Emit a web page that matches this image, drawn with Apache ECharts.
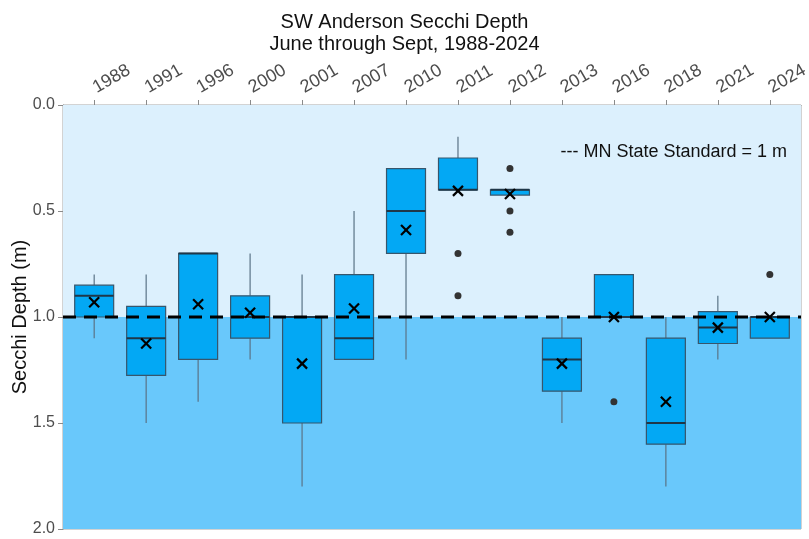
<!DOCTYPE html>
<html>
<head>
<meta charset="utf-8">
<title>SW Anderson Secchi Depth</title>
<script src="https://cdn.jsdelivr.net/npm/echarts@6/dist/echarts.min.js"></script>
<style>
  html, body { margin: 0; padding: 0; background: #fff; }
  #main { width: 809px; height: 539px; }
</style>
</head>
<body>
<div id="main"></div>
<script>
// years on the x axis
var years = ['1988', '1991', '1996', '2000', '2001', '2007', '2010', '2011', '2012', '2013', '2016', '2018', '2021', '2024'];
// min, Q1, median, Q3, max (metres, shallow -> deep)
var boxStats = [
  [0.8, 0.85, 0.9, 1.0, 1.1],
  [0.8, 0.95, 1.1, 1.275, 1.5],
  [0.7, 0.7, 0.7, 1.2, 1.4],
  [0.7, 0.9, 1.0, 1.1, 1.2],
  [0.8, 1.0, 1.0, 1.5, 1.8],
  [0.5, 0.8, 1.1, 1.2, 1.2],
  [0.3, 0.3, 0.5, 0.7, 1.2],
  [0.15, 0.25, 0.4, 0.4, 0.4],
  [0.4, 0.4, 0.4, 0.425, 0.425],
  [1.0, 1.1, 1.2, 1.35, 1.5],
  [0.8, 0.8, 1.0, 1.0, 1.0],
  [1.0, 1.1, 1.5, 1.6, 1.8],
  [0.9, 0.975, 1.05, 1.125, 1.2],
  [1.0, 1.0, 1.0, 1.1, 1.1]
];
// mean of each year
var means = [0.93, 1.125, 0.94, 0.98, 1.22, 0.96, 0.59, 0.405, 0.42, 1.22, 1.0, 1.4, 1.05, 1.0];
// outliers: year, depth
var outliers = [
  ['2011', 0.7], ['2011', 0.9],
  ['2012', 0.3], ['2012', 0.5], ['2012', 0.6],
  ['2016', 1.4],
  ['2024', 0.8]
];
var yTicks = [0, 0.5, 1.0, 1.5, 2.0];
var standard = 1.0;
var xRange = [-0.6, 13.6];

var myChart = echarts.init(document.getElementById('main'));

var idx = years.map(function (y, i) { return i; });
var boxData = boxStats.map(function (s, i) { return [i].concat(s); });
var meanData = means.map(function (m, i) { return [i, m]; });
var outlierData = outliers.map(function (o) { return [years.indexOf(o[0]), o[1]]; });

// box + whiskers without end caps (ggplot style)
function renderBox(params, api) {
  var x = api.value(0);
  var pMin = api.coord([x, api.value(1)]);
  var pQ1 = api.coord([x, api.value(2)]);
  var pMed = api.coord([x, api.value(3)]);
  var pQ3 = api.coord([x, api.value(4)]);
  var pMax = api.coord([x, api.value(5)]);
  var half = api.size([1, 0])[0] * 0.375;
  var cx = pMed[0];
  var whisker = { stroke: '#5a7386', lineWidth: 1.2 };
  return {
    type: 'group',
    children: [
      { type: 'line', shape: { x1: cx, y1: pMin[1], x2: cx, y2: pQ1[1] }, style: whisker },
      { type: 'line', shape: { x1: cx, y1: pQ3[1], x2: cx, y2: pMax[1] }, style: whisker },
      {
        type: 'rect',
        shape: { x: cx - half, y: pQ1[1], width: half * 2, height: pQ3[1] - pQ1[1] },
        style: { fill: '#03a8f4', stroke: '#37566c', lineWidth: 1.2 }
      },
      {
        type: 'line',
        shape: { x1: cx - half, y1: pMed[1], x2: cx + half, y2: pMed[1] },
        style: { stroke: '#1f3748', lineWidth: 2 }
      }
    ]
  };
}

// background bands, drawn through the axes
function renderBands(params, api) {
  var top = api.coord([xRange[0], yTicks[0]]);
  var mid = api.coord([xRange[1], standard]);
  var bot = api.coord([xRange[1], yTicks[yTicks.length - 1]]);
  return {
    type: 'group',
    children: [
      { type: 'rect', shape: { x: top[0], y: top[1], width: mid[0] - top[0], height: mid[1] - top[1] }, style: { fill: '#dcf0fd' } },
      { type: 'rect', shape: { x: top[0], y: mid[1], width: bot[0] - top[0], height: bot[1] - mid[1] }, style: { fill: '#69c8fb' } }
    ]
  };
}

// dashed state standard line
function renderStandard(params, api) {
  var a = api.coord([xRange[0], api.value(1)]);
  var b = api.coord([xRange[1], api.value(1)]);
  return {
    type: 'line',
    shape: { x1: a[0], y1: a[1], x2: b[0], y2: b[1] },
    style: { stroke: '#000', lineWidth: 3, lineDash: [13, 8] }
  };
}

function renderOutlier(params, api) {
  var p = api.coord([api.value(0), api.value(1)]);
  return { type: 'circle', shape: { cx: p[0], cy: p[1], r: 3.5 }, style: { fill: '#333' } };
}

function renderMean(params, api) {
  var p = api.coord([api.value(0), api.value(1)]);
  var s = 5;
  var st = { stroke: '#000', lineWidth: 2.2 };
  return {
    type: 'group',
    children: [
      { type: 'line', shape: { x1: p[0] - s, y1: p[1] - s, x2: p[0] + s, y2: p[1] + s }, style: st },
      { type: 'line', shape: { x1: p[0] - s, y1: p[1] + s, x2: p[0] + s, y2: p[1] - s }, style: st }
    ]
  };
}

var option = {
  animation: false,
  textStyle: { fontFamily: 'Liberation Sans, Arial, sans-serif' },
  title: [
    {
      text: 'SW Anderson Secchi Depth\nJune through Sept, 1988-2024',
      left: 'center',
      top: 6,
      textStyle: { fontSize: 20, fontWeight: 'normal', color: '#111', lineHeight: 22 }
    },
    {
      text: '--- MN State Standard = 1 m',
      right: 17,
      top: 138,
      textStyle: { fontSize: 18, fontWeight: 'normal', color: '#111' }
    }
  ],
  grid: {
    left: 63,
    right: 8,
    top: 105,
    bottom: 10,
    outerBoundsMode: 'none',
    containLabel: false,
    show: true,
    borderColor: '#a6a6a6',
    borderWidth: 1,
    backgroundColor: 'transparent'
  },
  xAxis: {
    type: 'value',
    position: 'top',
    min: xRange[0],
    max: xRange[1],
    axisLine: { show: true, onZero: false, lineStyle: { color: '#8a8a8a', width: 1 } },
    axisTick: { show: true, length: 5, customValues: idx, lineStyle: { color: '#8a8a8a' } },
    axisLabel: {
      customValues: idx,
      // top axis flips the sign, so this slants up to the right
      rotate: -30,
      margin: 16,
      fontSize: 18,
      color: '#4d4d4d',
      formatter: function (v) { return years[Math.round(v)]; }
    },
    splitLine: { show: false },
    axisPointer: { show: false }
  },
  yAxis: {
    type: 'value',
    inverse: true,
    min: 0,
    max: 2,
    interval: 0.5,
    name: 'Secchi Depth (m)',
    nameLocation: 'middle',
    nameRotate: 90,
    nameGap: 33,
    nameMoveOverlap: false,
    nameTextStyle: { fontSize: 20, color: '#111' },
    axisLine: { show: true, onZero: false, lineStyle: { color: '#8a8a8a', width: 1 } },
    axisTick: { show: true, length: 5, lineStyle: { color: '#8a8a8a' } },
    axisLabel: {
      margin: 8,
      fontSize: 16,
      color: '#4d4d4d',
      formatter: function (v) { return v.toFixed(1); }
    },
    splitLine: { show: false },
    axisPointer: { show: false }
  },
  series: [
    {
      name: 'bg',
      type: 'custom',
      z: 1,
      silent: true,
      renderItem: renderBands,
      encode: { x: 0, y: 1 },
      data: [[0, standard]]
    },
    {
      name: 'box',
      type: 'custom',
      z: 3,
      renderItem: renderBox,
      encode: { x: 0, y: [1, 2, 3, 4, 5] },
      data: boxData
    },
    {
      name: 'standard',
      type: 'custom',
      z: 4,
      silent: true,
      renderItem: renderStandard,
      encode: { x: 0, y: 1 },
      data: [[0, standard]]
    },
    {
      name: 'outliers',
      type: 'custom',
      z: 5,
      renderItem: renderOutlier,
      encode: { x: 0, y: 1 },
      data: outlierData
    },
    {
      name: 'mean',
      type: 'custom',
      z: 6,
      renderItem: renderMean,
      encode: { x: 0, y: 1 },
      data: meanData
    }
  ]
};

myChart.setOption(option);
</script>
</body>
</html>
